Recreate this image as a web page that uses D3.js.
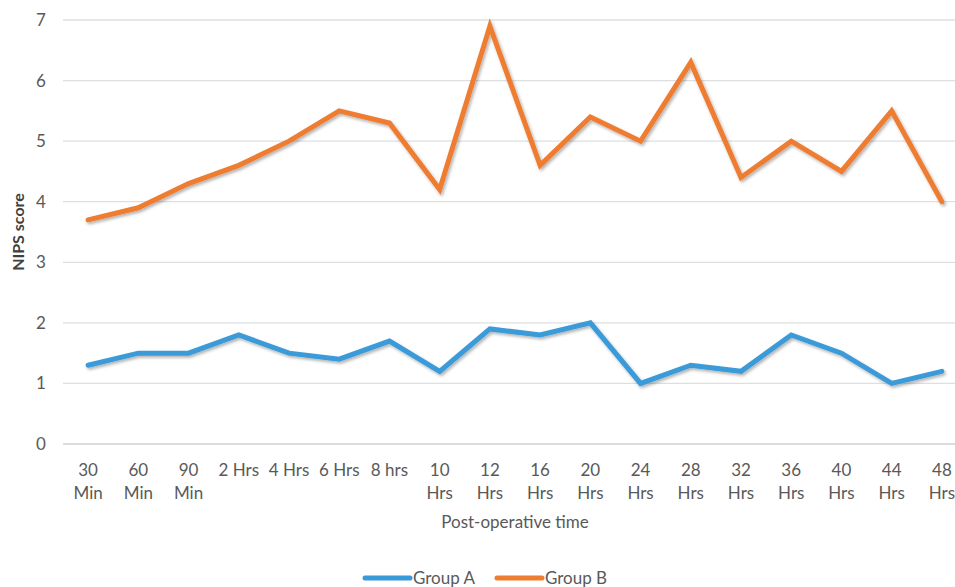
<!DOCTYPE html>
<html><head><meta charset="utf-8">
<script src="https://cdn.jsdelivr.net/npm/d3@7"></script>
<style>
html,body{margin:0;padding:0;background:#fff;}
svg{display:block;}
text{font-family:Lato,"Open Sans",sans-serif;}
</style></head>
<body><svg id="c" width="955" height="587"></svg>
<script>
const categories = [["30","Min"],["60","Min"],["90","Min"],["2 Hrs"],["4 Hrs"],["6 Hrs"],["8 hrs"],["10","Hrs"],["12","Hrs"],["16","Hrs"],["20","Hrs"],["24","Hrs"],["28","Hrs"],["32","Hrs"],["36","Hrs"],["40","Hrs"],["44","Hrs"],["48","Hrs"]];
const groupA = [1.3,1.5,1.5,1.8,1.5,1.4,1.7,1.2,1.9,1.8,2.0,1.0,1.3,1.2,1.8,1.5,1.0,1.2];
const groupB = [3.7,3.9,4.3,4.6,5.0,5.5,5.3,4.2,6.9,4.6,5.4,5.0,6.3,4.4,5.0,4.5,5.5,4.0];
const yTicks = [0,1,2,3,4,5,6,7];
const seriesNames = ["Group A","Group B"];
const colors = ["#3a9ad8","#ee7d31"];

const svg = d3.select("#c");
const defs = svg.append("defs");
const f = defs.append("filter").attr("id","sh").attr("x","-10%").attr("y","-10%").attr("width","120%").attr("height","130%");
f.append("feDropShadow").attr("dx",1.5).attr("dy",2).attr("stdDeviation",1.5).attr("flood-color","#000").attr("flood-opacity",0.3);

const idx = categories.map((d,i)=>i);
const x = d3.scaleBand().domain(idx).range([63,967]);
const y = d3.scaleLinear().domain([0,7]).range([444,20]);
const cx = i => x(i) + x.bandwidth()/2;

// gridlines
svg.append("g").selectAll("line").data(yTicks).join("line")
  .attr("x1",63).attr("x2",955).attr("y1",d=>y(d)).attr("y2",d=>y(d))
  .attr("stroke",d=>d===0?"#cfd3d6":"#dde0e3").attr("stroke-width",1.3);

// y axis labels
const yAxis = d3.axisLeft(y).tickValues(yTicks).tickSize(0).tickPadding(0).tickFormat(d3.format("d"));
const gy = svg.append("g").attr("transform","translate(46,0)").call(yAxis);
gy.select(".domain").remove();
gy.selectAll("text").attr("font-size",17).attr("fill","#595959").attr("text-anchor","middle").attr("dx",-5).style("font-family","Lato,'Open Sans',sans-serif");

// x axis labels
const xAxis = d3.axisBottom(x).tickSize(0).tickFormat(()=>"");
const gx = svg.append("g").attr("transform","translate(0,444)").call(xAxis);
gx.select(".domain").remove();
gx.selectAll(".tick").each(function(i){
  const t = d3.select(this).select("text").text(null).attr("y",0).attr("dy",null)
    .attr("font-size",17).attr("fill","#595959").style("font-family","Lato,'Open Sans',sans-serif");
  categories[i].forEach((s,k)=>{
    t.append("tspan").attr("x",0).attr("y",32+k*23).text(s);
  });
});

// lines
const line = d3.line().x((d,i)=>cx(i)).y(d=>y(d)).curve(d3.curveLinear);
[groupA,groupB].forEach((s,k)=>{
  svg.append("path").datum(s).attr("d",line).attr("fill","none")
    .attr("stroke",colors[k]).attr("stroke-width",5).attr("stroke-linejoin","miter")
    .attr("stroke-linecap","round").attr("filter","url(#sh)");
});

// axis titles
svg.append("text").attr("x",515).attr("y",528).attr("text-anchor","middle")
  .attr("font-size",17).attr("fill","#595959").text("Post-operative time");
svg.append("text").attr("transform","translate(24,232) rotate(-90)").attr("text-anchor","middle")
  .attr("font-size",16).attr("font-weight","bold").attr("fill","#404040").text("NIPS score");

// legend
const lg = svg.append("g");
const lx = [365,497];
seriesNames.forEach((n,k)=>{
  lg.append("line").attr("x1",lx[k]).attr("x2",lx[k]+45).attr("y1",578).attr("y2",578)
    .attr("stroke",colors[k]).attr("stroke-width",5).attr("stroke-linecap","round");
  lg.append("text").attr("x",lx[k]+48).attr("y",584).attr("font-size",17).attr("fill","#595959").text(n);
});
</script></body></html>
